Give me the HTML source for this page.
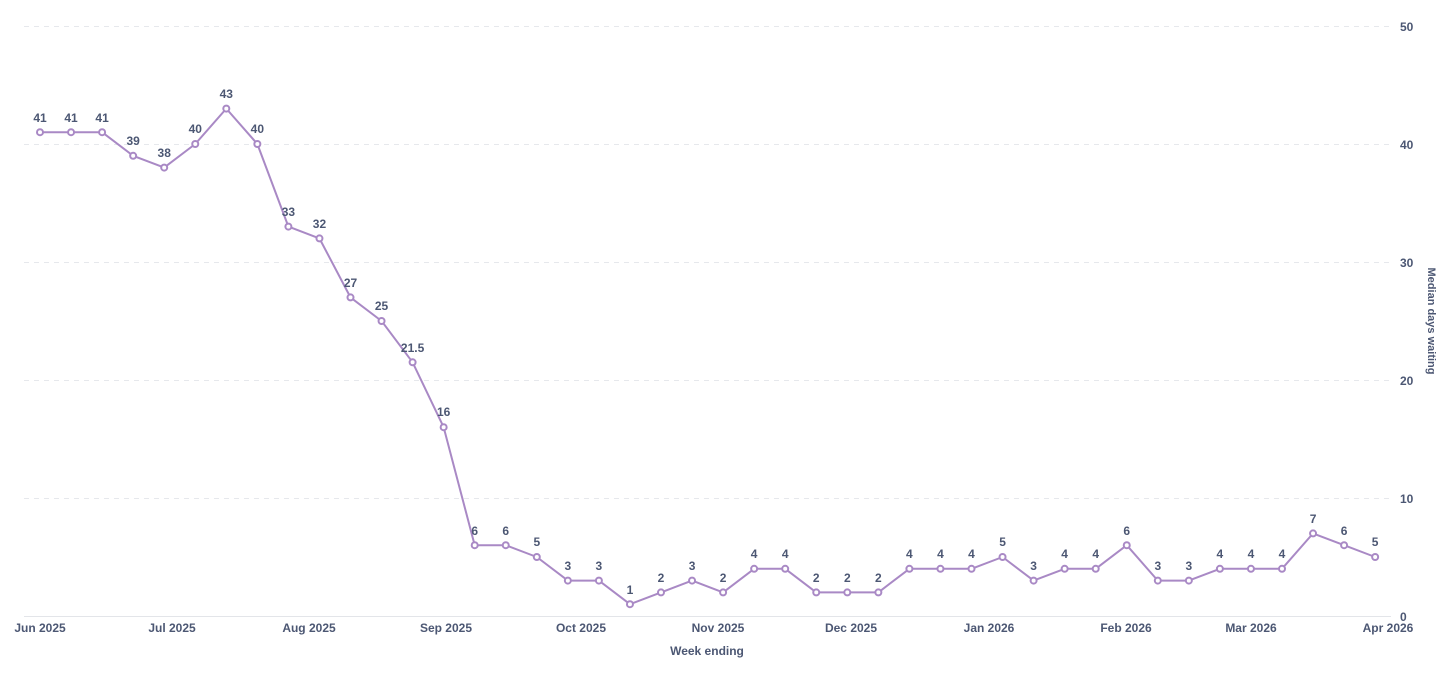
<!DOCTYPE html>
<html><head><meta charset="utf-8"><style>
html,body{margin:0;padding:0;background:#fff;}
svg text{font-family:"Liberation Sans",sans-serif;fill:#4c5773;}
</style></head><body>
<svg width="1450" height="670" xmlns="http://www.w3.org/2000/svg">
<g stroke="#e6e8ec" stroke-dasharray="5,5" stroke-width="1">
<line x1="24" x2="1390" y1="26.5" y2="26.5"/>
<line x1="24" x2="1390" y1="144.5" y2="144.5"/>
<line x1="24" x2="1390" y1="262.5" y2="262.5"/>
<line x1="24" x2="1390" y1="380.5" y2="380.5"/>
<line x1="24" x2="1390" y1="498.5" y2="498.5"/>
</g>
<line x1="24" x2="1391" y1="616.5" y2="616.5" stroke="#e3e5e9"/>
<g font-size="12" font-weight="bold">
<text x="1400" y="31">50</text><text x="1400" y="149">40</text><text x="1400" y="267">30</text><text x="1400" y="385">20</text><text x="1400" y="503">10</text><text x="1400" y="621">0</text>
</g>
<text font-size="11" font-weight="bold" transform="translate(1428,321) rotate(90)" text-anchor="middle">Median days waiting</text>
<g font-size="12" font-weight="bold" text-anchor="middle">
<text x="40" y="632">Jun 2025</text><text x="172" y="632">Jul 2025</text><text x="309" y="632">Aug 2025</text><text x="446" y="632">Sep 2025</text><text x="581" y="632">Oct 2025</text><text x="718" y="632">Nov 2025</text><text x="851" y="632">Dec 2025</text><text x="989" y="632">Jan 2026</text><text x="1126" y="632">Feb 2026</text><text x="1251" y="632">Mar 2026</text><text x="1388" y="632">Apr 2026</text>
<text x="707" y="655">Week ending</text>
</g>
<polyline fill="none" stroke="#a989c5" stroke-width="2" stroke-linejoin="round" points="40,132.2 71.05,132.2 102.1,132.2 133.15,155.8 164.2,167.6 195.25,144 226.3,108.6 257.35,144 288.4,226.6 319.45,238.4 350.5,297.4 381.55,321 412.6,362.3 443.65,427.2 474.7,545.2 505.75,545.2 536.8,557 567.85,580.6 598.9,580.6 629.95,604.2 661,592.4 692.05,580.6 723.1,592.4 754.15,568.8 785.2,568.8 816.25,592.4 847.3,592.4 878.35,592.4 909.4,568.8 940.45,568.8 971.5,568.8 1002.55,557 1033.6,580.6 1064.65,568.8 1095.7,568.8 1126.75,545.2 1157.8,580.6 1188.85,580.6 1219.9,568.8 1250.95,568.8 1282,568.8 1313.05,533.4 1344.1,545.2 1375.15,557"/>
<g fill="#fff" stroke="#a989c5" stroke-width="2">
<circle cx="40" cy="132.2" r="3"/><circle cx="71.05" cy="132.2" r="3"/><circle cx="102.1" cy="132.2" r="3"/><circle cx="133.15" cy="155.8" r="3"/><circle cx="164.2" cy="167.6" r="3"/><circle cx="195.25" cy="144" r="3"/><circle cx="226.3" cy="108.6" r="3"/><circle cx="257.35" cy="144" r="3"/><circle cx="288.4" cy="226.6" r="3"/><circle cx="319.45" cy="238.4" r="3"/><circle cx="350.5" cy="297.4" r="3"/><circle cx="381.55" cy="321" r="3"/><circle cx="412.6" cy="362.3" r="3"/><circle cx="443.65" cy="427.2" r="3"/><circle cx="474.7" cy="545.2" r="3"/><circle cx="505.75" cy="545.2" r="3"/><circle cx="536.8" cy="557" r="3"/><circle cx="567.85" cy="580.6" r="3"/><circle cx="598.9" cy="580.6" r="3"/><circle cx="629.95" cy="604.2" r="3"/><circle cx="661" cy="592.4" r="3"/><circle cx="692.05" cy="580.6" r="3"/><circle cx="723.1" cy="592.4" r="3"/><circle cx="754.15" cy="568.8" r="3"/><circle cx="785.2" cy="568.8" r="3"/><circle cx="816.25" cy="592.4" r="3"/><circle cx="847.3" cy="592.4" r="3"/><circle cx="878.35" cy="592.4" r="3"/><circle cx="909.4" cy="568.8" r="3"/><circle cx="940.45" cy="568.8" r="3"/><circle cx="971.5" cy="568.8" r="3"/><circle cx="1002.55" cy="557" r="3"/><circle cx="1033.6" cy="580.6" r="3"/><circle cx="1064.65" cy="568.8" r="3"/><circle cx="1095.7" cy="568.8" r="3"/><circle cx="1126.75" cy="545.2" r="3"/><circle cx="1157.8" cy="580.6" r="3"/><circle cx="1188.85" cy="580.6" r="3"/><circle cx="1219.9" cy="568.8" r="3"/><circle cx="1250.95" cy="568.8" r="3"/><circle cx="1282" cy="568.8" r="3"/><circle cx="1313.05" cy="533.4" r="3"/><circle cx="1344.1" cy="545.2" r="3"/><circle cx="1375.15" cy="557" r="3"/>
</g>
<g font-size="12" font-weight="bold" text-anchor="middle">
<text x="40" y="122">41</text><text x="71.05" y="122">41</text><text x="102.1" y="122">41</text><text x="133.15" y="145">39</text><text x="164.2" y="157">38</text><text x="195.25" y="133">40</text><text x="226.3" y="98">43</text><text x="257.35" y="133">40</text><text x="288.4" y="216">33</text><text x="319.45" y="228">32</text><text x="350.5" y="287">27</text><text x="381.55" y="310">25</text><text x="412.6" y="352">21.5</text><text x="443.65" y="416">16</text><text x="474.7" y="535">6</text><text x="505.75" y="535">6</text><text x="536.8" y="546">5</text><text x="567.85" y="570">3</text><text x="598.9" y="570">3</text><text x="629.95" y="594">1</text><text x="661" y="582">2</text><text x="692.05" y="570">3</text><text x="723.1" y="582">2</text><text x="754.15" y="558">4</text><text x="785.2" y="558">4</text><text x="816.25" y="582">2</text><text x="847.3" y="582">2</text><text x="878.35" y="582">2</text><text x="909.4" y="558">4</text><text x="940.45" y="558">4</text><text x="971.5" y="558">4</text><text x="1002.55" y="546">5</text><text x="1033.6" y="570">3</text><text x="1064.65" y="558">4</text><text x="1095.7" y="558">4</text><text x="1126.75" y="535">6</text><text x="1157.8" y="570">3</text><text x="1188.85" y="570">3</text><text x="1219.9" y="558">4</text><text x="1250.95" y="558">4</text><text x="1282" y="558">4</text><text x="1313.05" y="523">7</text><text x="1344.1" y="535">6</text><text x="1375.15" y="546">5</text>
</g>
</svg>
</body></html>
